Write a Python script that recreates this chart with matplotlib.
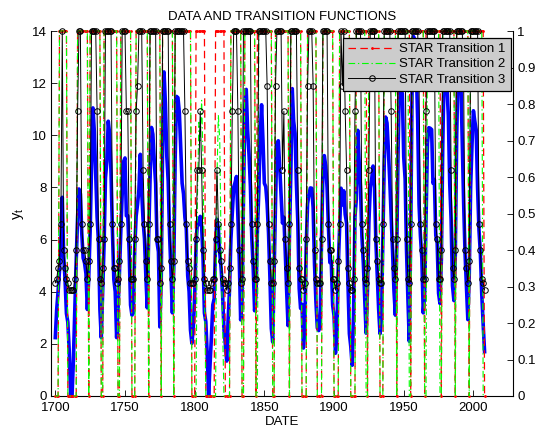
import matplotlib
matplotlib.use('Agg')
import matplotlib.pyplot as plt

plt.rcParams['font.family'] = ['Liberation Sans', 'DejaVu Sans']
plt.rcParams['mathtext.fontset'] = 'custom'
plt.rcParams['mathtext.rm'] = 'Liberation Sans'

years = list(range(1700, 2009))

y_t = [
    2.24, 3.32, 4.00, 4.80, 6.00, 7.62, 5.39, 4.47, 3.16, 2.83,
    1.73, 0.00, 0.00, 1.41, 3.32, 5.20, 6.86, 7.94, 7.75, 6.24,
    5.29, 5.10, 4.69, 3.32, 4.58, 6.32, 8.83, 11.05, 10.15, 8.54,
    6.86, 5.92, 3.32, 2.24, 4.00, 5.83, 8.37, 9.00, 10.54, 10.05,
    8.54, 6.32, 4.47, 4.00, 2.24, 3.32, 4.69, 6.32, 7.75, 8.99,
    9.13, 6.91, 6.91, 5.54, 3.49, 3.10, 3.19, 5.69, 6.90, 7.35,
    7.93, 9.27, 7.82, 6.72, 6.03, 4.57, 3.38, 6.15, 8.35, 10.30,
    10.04, 9.03, 8.15, 5.90, 5.53, 2.65, 4.45, 9.62, 12.43, 11.22,
    9.21, 8.25, 6.20, 4.77, 3.19, 4.91, 9.10, 11.49, 11.44, 10.87,
    9.48, 8.16, 7.75, 6.85, 6.40, 4.62, 4.00, 2.53, 2.02, 2.61,
    3.81, 5.83, 6.71, 6.57, 6.89, 6.50, 5.30, 3.18, 2.85, 1.58,
    0.00, 1.18, 2.24, 3.49, 3.73, 5.95, 6.77, 6.41, 5.49, 4.89,
    3.95, 2.57, 2.00, 1.34, 2.92, 4.07, 6.02, 7.04, 8.01, 8.19,
    8.42, 6.91, 5.24, 2.92, 3.63, 7.54, 11.02, 11.76, 10.16, 9.26,
    8.04, 6.06, 4.92, 3.27, 3.87, 6.33, 7.84, 9.92, 11.17, 9.81,
    8.16, 8.03, 7.36, 6.24, 4.54, 2.59, 2.07, 4.76, 7.40, 9.69,
    9.79, 8.79, 7.69, 6.63, 6.86, 5.52, 4.04, 2.70, 6.13, 8.60,
    11.79, 10.55, 10.08, 8.14, 6.69, 4.12, 3.36, 3.52, 1.84, 2.45,
    5.68, 7.37, 7.73, 7.98, 7.97, 7.22, 5.04, 3.62, 2.61, 2.51,
    2.66, 5.97, 8.54, 9.22, 8.83, 8.00, 6.47, 5.12, 5.17, 3.48,
    3.08, 1.64, 2.24, 4.94, 6.48, 7.97, 7.33, 7.87, 6.96, 6.63,
    4.31, 2.39, 1.90, 1.18, 3.10, 6.88, 7.56, 10.19, 8.98, 7.97,
    6.13, 5.11, 3.77, 2.41, 4.09, 6.66, 7.99, 8.31, 8.82, 8.06,
    5.97, 4.60, 3.33, 2.39, 2.95, 6.01, 8.93, 10.70, 10.47, 9.42,
    8.23, 6.89, 5.53, 4.04, 3.10, 5.76, 9.62, 12.31, 11.67, 11.61,
    9.16, 8.33, 5.61, 3.73, 2.10, 6.16, 11.90, 13.79, 13.59, 12.61,
    10.60, 7.34, 6.13, 5.28, 3.19, 3.89, 6.86, 9.69, 10.29, 10.27,
    10.22, 8.16, 8.30, 6.16, 5.87, 3.94, 3.55, 5.24, 9.62, 12.47,
    12.43, 11.85, 10.77, 8.16, 6.77, 4.23, 3.66, 5.42, 10.01, 12.55,
    11.94, 12.07, 9.71, 7.39, 5.47, 4.18, 2.93, 4.64, 8.02, 9.66,
    10.94, 10.54, 10.20, 7.98, 6.36, 5.46, 3.90, 2.74, 1.70,
]

star1 = [
    0, 0, 0, 1, 1, 1, 1, 1, 1, 0,
    0, 0, 0, 0, 0, 0, 1, 1, 1, 1,
    1, 1, 1, 1, 0, 1, 1, 1, 1, 1,
    1, 1, 1, 0, 0, 1, 1, 1, 1, 1,
    1, 1, 1, 1, 1, 0, 0, 1, 1, 1,
    1, 1, 1, 1, 1, 0, 0, 0, 1, 1,
    1, 1, 1, 1, 1, 1, 1, 0, 1, 1,
    1, 1, 1, 1, 1, 1, 0, 1, 1, 1,
    1, 1, 1, 1, 1, 0, 1, 1, 1, 1,
    1, 1, 1, 1, 1, 1, 1, 1, 0, 0,
    0, 1, 1, 1, 1, 1, 1, 1, 0, 0,
    0, 0, 0, 0, 0, 1, 1, 1, 1, 1,
    1, 1, 0, 0, 0, 0, 1, 1, 1, 1,
    1, 1, 1, 1, 0, 0, 1, 1, 1, 1,
    1, 1, 1, 1, 0, 1, 1, 1, 1, 1,
    1, 1, 1, 1, 1, 1, 0, 0, 1, 1,
    1, 1, 1, 1, 1, 1, 1, 1, 0, 1,
    1, 1, 1, 1, 1, 1, 1, 0, 0, 0,
    0, 1, 1, 1, 1, 1, 1, 1, 0, 0,
    0, 0, 1, 1, 1, 1, 1, 1, 1, 1,
    0, 0, 0, 0, 1, 1, 1, 1, 1, 1,
    1, 1, 0, 0, 0, 0, 1, 1, 1, 1,
    1, 1, 1, 1, 0, 1, 1, 1, 1, 1,
    1, 1, 1, 0, 0, 0, 1, 1, 1, 1,
    1, 1, 1, 1, 1, 0, 1, 1, 1, 1,
    1, 1, 1, 1, 1, 0, 1, 1, 1, 1,
    1, 1, 1, 1, 1, 0, 1, 1, 1, 1,
    1, 1, 1, 1, 1, 1, 1, 0, 1, 1,
    1, 1, 1, 1, 1, 1, 1, 0, 1, 1,
    1, 1, 1, 1, 1, 1, 1, 0, 1, 1,
    1, 1, 1, 1, 1, 1, 1, 1, 0,
]

star2 = [
    0, 0, 0, 1, 1, 1, 1, 1, 1, 0,
    0, 0, 0, 0, 0, 0, 1, 1, 1, 1,
    1, 1, 1, 1, 0, 1, 1, 1, 1, 1,
    1, 1, 1, 0, 0, 1, 1, 1, 1, 1,
    1, 1, 1, 1, 1, 0, 0, 1, 1, 1,
    1, 1, 1, 1, 1, 0, 0, 0, 1, 1,
    1, 1, 1, 1, 1, 1, 1, 0, 1, 1,
    1, 1, 1, 1, 1, 1, 0, 1, 1, 1,
    1, 1, 1, 1, 1, 0, 1, 1, 1, 1,
    1, 1, 1, 1, 1, 1, 1, 1, 0, 0,
    0, 0, 0.55, 0.75, 0.70, 0.81, 0.65, 0.30, 0, 0,
    0, 0, 0, 0, 0, 0, 0.60, 0.77, 0.70, 0.40,
    0.20, 0, 0, 0, 0, 0, 1, 1, 1, 1,
    1, 1, 1, 1, 0, 0, 1, 1, 1, 1,
    1, 1, 1, 1, 0, 0, 1, 1, 1, 1,
    1, 1, 1, 1, 1, 1, 0, 0, 1, 1,
    1, 1, 1, 1, 1, 1, 1, 1, 0, 1,
    1, 1, 1, 1, 1, 1, 1, 0, 0, 0,
    0, 1, 1, 1, 1, 1, 1, 1, 0, 0,
    0, 0, 1, 1, 1, 1, 1, 1, 1, 1,
    0, 0, 0, 0, 1, 1, 1, 1, 1, 1,
    1, 1, 0, 0, 0, 0, 1, 1, 1, 1,
    1, 1, 1, 0, 0, 1, 1, 1, 1, 1,
    1, 1, 1, 0, 0, 0, 1, 1, 1, 1,
    1, 1, 1, 1, 1, 0, 1, 1, 1, 1,
    1, 1, 1, 1, 0, 0, 1, 1, 1, 1,
    1, 1, 1, 1, 1, 0, 0, 1, 1, 1,
    1, 1, 1, 1, 1, 1, 0, 0, 1, 1,
    1, 1, 1, 1, 1, 1, 1, 0, 1, 1,
    1, 1, 1, 1, 1, 1, 1, 0, 1, 1,
    1, 1, 1, 1, 1, 1, 1, 0, 0,
]

star3 = [
    .31, .32, .35, .37, .47, 1, .40, .35, .32, .31,
    .29, .29, .29, .29, .32, .40, .78, 1, 1, .47,
    .40, .40, .37, .32, .37, .47, 1, 1, 1, 1,
    .78, .43, .32, .31, .35, .43, 1, 1, 1, 1,
    1, .47, .35, .35, .31, .32, .37, .47, 1, 1,
    1, .78, .78, .43, .32, .32, .32, .43, .78, .85,
    1, 1, 1, .62, .47, .37, .32, .47, 1, 1,
    1, 1, 1, .43, .43, .31, .35, 1, 1, 1,
    1, 1, .47, .37, .32, .37, 1, 1, 1, 1,
    1, 1, 1, .78, .47, .37, .35, .31, .31, .31,
    .32, .43, .62, .62, .78, .62, .40, .32, .31, .29,
    .29, .29, .31, .32, .32, .43, .62, .47, .40, .37,
    .32, .31, .31, .29, .31, .35, .47, .78, 1, 1,
    1, .78, .40, .31, .32, 1, 1, 1, 1, 1,
    1, .47, .37, .32, .32, .47, 1, 1, 1, 1,
    1, 1, .85, .47, .37, .31, .31, .37, .85, 1,
    1, 1, 1, .62, .78, .43, .35, .31, .47, 1,
    1, 1, 1, 1, .62, .35, .32, .32, .29, .31,
    .43, .85, 1, 1, 1, .85, .40, .32, .31, .31,
    .31, .43, 1, 1, 1, 1, .47, .40, .40, .32,
    .32, .29, .31, .37, .47, 1, .85, 1, .78, .62,
    .35, .31, .29, .29, .32, .78, 1, 1, 1, 1,
    .47, .40, .32, .31, .35, .62, 1, 1, 1, 1,
    .43, .37, .32, .31, .31, .47, 1, 1, 1, 1,
    1, .78, .43, .35, .32, .43, 1, 1, 1, 1,
    1, 1, .43, .32, .31, .47, 1, 1, 1, 1,
    1, .85, .47, .40, .32, .32, .78, 1, 1, 1,
    1, 1, 1, .47, .43, .32, .32, .40, 1, 1,
    1, 1, 1, 1, .62, .35, .32, .40, 1, 1,
    1, 1, 1, .85, .40, .35, .31, .37, 1, 1,
    1, 1, 1, 1, .47, .40, .32, .31, .29,
]

x_ticks = [1700, 1750, 1800, 1850, 1900, 1950, 2000]
left_ticks = [0, 2, 4, 6, 8, 10, 12, 14]
right_ticks = [0, 0.1, 0.2, 0.3, 0.4, 0.5, 0.6, 0.7, 0.8, 0.9, 1]
right_labels = ['0', '0.1', '0.2', '0.3', '0.4', '0.5', '0.6', '0.7', '0.8', '0.9', '1']
legend_labels = ['STAR Transition 1', 'STAR Transition 2', 'STAR Transition 3']

FS = 9.5

fig = plt.figure(figsize=(5.36, 4.34), dpi=100)
fig.patch.set_facecolor('white')
ax1 = fig.add_axes([50.7 / 536, 38 / 434, (513 - 50.7) / 536, 365 / 434])
ax1.plot(years, y_t, color='#0000ff', lw=2.6, clip_on=False, zorder=2)
ax1.set_xlim(1696.7, 2028.4)
ax1.set_ylim(0, 14)
ax1.set_xticks(x_ticks)
ax1.set_xticklabels([str(v) for v in x_ticks])
ax1.set_yticks(left_ticks)
ax1.set_yticklabels([str(v) for v in left_ticks])
ax1.tick_params(axis='y', direction='in', length=4, width=0.6, labelsize=FS, pad=3,
                right=False)
ax1.tick_params(axis='x', direction='in', length=4, width=0.6, labelsize=FS, pad=4.5,
                top=False)
for s in ['top', 'right']:
    ax1.spines[s].set_visible(False)
for s in ['left', 'bottom']:
    ax1.spines[s].set_linewidth(0.8)
ax1.set_xlabel('DATE', fontsize=FS, labelpad=1)
ax1.set_ylabel(r'$\mathregular{y_t}$', fontsize=FS + 1, labelpad=4)
ax1.set_title('DATA AND TRANSITION FUNCTIONS', fontsize=FS, pad=8)

ax2 = ax1.twinx()
ax2.set_ylim(0, 1)
ax2.set_xlim(1696.7, 2028.4)
l1, = ax2.plot(years, star1, color='#ff0000', lw=0.9, ls='--', dashes=(6, 3.5),
               marker='.', ms=2, clip_on=False, label=legend_labels[0])
l2, = ax2.plot(years, star2, color='#00ff00', lw=0.8, ls='-.',
               dashes=(6, 2.5, 1.2, 2.5), clip_on=False, label=legend_labels[1])
l3, = ax2.plot(years, star3, color='black', lw=0.7, marker='o', ms=4,
               mfc='none', mec='black', mew=0.7, clip_on=False,
               label=legend_labels[2])
ax2.set_yticks(right_ticks)
ax2.set_yticklabels(right_labels)
ax2.tick_params(axis='y', direction='in', length=4, width=0.6, labelsize=FS, pad=3)
for s in ['top', 'left', 'bottom']:
    ax2.spines[s].set_visible(False)
ax2.spines['right'].set_linewidth(0.8)

leg = ax2.legend(handles=[l1, l2, l3], loc='upper right',
                 bbox_to_anchor=(0.9957, 0.9816), borderaxespad=0,
                 fontsize=FS, handlelength=3.6, handletextpad=0.3,
                 borderpad=0.4, labelspacing=0.22, fancybox=False,
                 edgecolor='black', facecolor='#cccccc', framealpha=1,
                 numpoints=1)
leg.get_frame().set_linewidth(0.9)
leg.set_zorder(10)

fig.savefig('out.png', dpi=100, facecolor='white')
